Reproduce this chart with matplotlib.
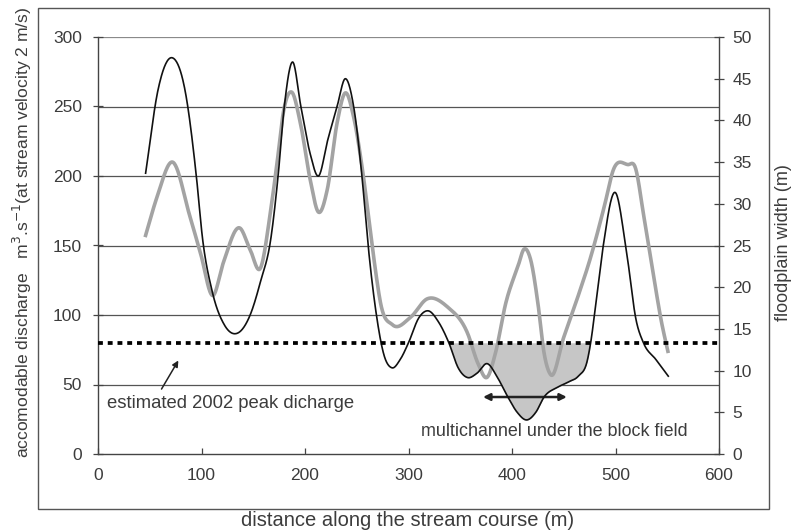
import numpy as np
import matplotlib
matplotlib.use("Agg")
import matplotlib.pyplot as plt
from matplotlib.patches import Rectangle

plt.rcParams['font.family'] = ['Liberation Sans', 'DejaVu Sans']

# ---- data ----
dist_q = [46, 58, 72, 84, 95, 101, 110, 122, 135, 147, 157, 167, 174, 180, 188, 196, 205,
          213, 222, 231, 239, 247, 255, 261, 269, 276, 284, 292, 300, 310, 319, 329, 339,
          348, 357, 366, 376, 386, 396, 405, 414, 423, 431, 444, 455, 464, 473, 476, 481,
          488, 500, 510, 520, 527, 539, 551]
discharge = [202, 262, 285, 262, 200, 155, 118, 93, 87, 100, 124, 155, 200, 250, 282, 250, 216,
             200, 226, 250, 270, 250, 200, 150, 100, 72, 62, 68, 80, 98, 103, 95, 80,
             62, 55, 58, 65, 55, 41, 30, 24.5, 30, 41, 48, 52, 56, 68, 80, 108,
             149, 188, 149, 96, 80, 68, 56]

dist_w = [45.5, 57, 72, 89, 99, 111, 121, 137, 147, 157, 166.5, 173, 179, 187, 195.5,
          205, 213, 221.5, 231, 239, 247, 255.5, 263, 268, 273, 284.5, 302, 318, 338, 357,
          367, 376, 384, 394, 405.5, 412, 418, 425, 431, 437.5, 450, 463.5, 476, 489, 498,
          512, 519, 527.5, 537, 544, 551]
width = [26.0, 30.8, 35.0, 28.4, 24.1, 19.0, 22.9, 27.1, 24.5, 22.3, 28.9, 34.9, 40.9, 43.4, 39.7,
         32.9, 29.0, 31.7, 39.7, 43.3, 40.4, 34.1, 26.9, 22.1, 18.1, 15.5, 16.4, 18.6, 17.6, 14.5,
         10.9, 9.2, 12.1, 18.1, 22.4, 24.6, 23.3, 18.1, 12.1, 9.5, 14.0, 18.8, 23.6, 29.6, 34.1,
         34.7, 34.4, 28.4, 21.2, 16.1, 12.1]

peak_2002 = 80
fill_range = [330, 485]
arrow_span = [372, 453]
arrow_level = 41

x_ticks = [0, 100, 200, 300, 400, 500, 600]
left_ticks = [0, 50, 100, 150, 200, 250, 300]
right_ticks = [0, 5, 10, 15, 20, 25, 30, 35, 40, 45, 50]


def smooth(xs, ys, n=30):
    """Cubic Hermite curve through the points (like a smoothed line)."""
    x = np.asarray(xs, float)
    y = np.asarray(ys, float)
    h = np.diff(x)
    d = np.diff(y) / h
    m = np.empty_like(y)
    m[0], m[-1] = d[0], d[-1]
    m[1:-1] = (d[1:] * h[:-1] + d[:-1] * h[1:]) / (h[:-1] + h[1:])
    X, Y = [], []
    t = np.linspace(0, 1, n, endpoint=False)
    for i in range(len(x) - 1):
        h00 = 2 * t**3 - 3 * t**2 + 1
        h10 = t**3 - 2 * t**2 + t
        h01 = -2 * t**3 + 3 * t**2
        h11 = t**3 - t**2
        X.append(x[i] + t * h[i])
        Y.append(h00 * y[i] + h10 * h[i] * m[i] + h01 * y[i + 1] + h11 * h[i] * m[i + 1])
    X.append([x[-1]])
    Y.append([y[-1]])
    return np.concatenate(X), np.concatenate(Y)


TXT = '#3c3c3c'
GRID = '#555555'
FS = 12.5

fig = plt.figure(figsize=(7.96, 5.31), dpi=100)
ax = fig.add_axes([98 / 796, 1 - 454 / 531, (719 - 98) / 796, (454 - 37) / 531])
ax2 = ax.twinx()

# outer frame
fig.patches.append(Rectangle((38 / 796, 1 - 509 / 531), (769 - 38) / 796, (509 - 8) / 531,
                             transform=fig.transFigure, fill=False, edgecolor='#555555',
                             linewidth=1.0, zorder=0))

ax.set_xlim(0, 600)
ax.set_ylim(0, 300)
ax2.set_ylim(0, 50)

for v in left_ticks[1:]:
    ax2.axhline(v * 50 / 300, color=GRID if v < 300 else '#8a8a8a', linewidth=0.9, zorder=1)

qx, qy = smooth(dist_q, discharge)
wx, wy = smooth(dist_w, width)

mask = (qx >= fill_range[0]) & (qx <= fill_range[1])
ax2.fill_between(qx[mask], qy[mask], peak_2002, where=qy[mask] < peak_2002, interpolate=True,
                 color='#c6c6c6', linewidth=0, zorder=2, transform=ax.transData)

ax2.plot(wx, wy, color='#a3a3a3', linewidth=2.6, zorder=3, solid_capstyle='butt')

ax.plot([0, 600], [peak_2002, peak_2002], color='black', linewidth=2.7,
        linestyle=(0, (1.3, 1.3)), dash_capstyle='butt', zorder=5)
ax.plot(qx, qy, color='#111111', linewidth=1.2, zorder=4)
ax.set_zorder(ax2.get_zorder() + 1)
ax.patch.set_visible(False)

# annotations
ax.annotate('', xy=(79, 69), xytext=(60, 45),
            arrowprops=dict(arrowstyle='-|>', color='#222222', lw=1.1, mutation_scale=9))
ax.text(9, 36.5, 'estimated 2002 peak dicharge', fontsize=13.3, color=TXT,
        ha='left', va='center')
ax.annotate('', xy=(arrow_span[1], arrow_level), xytext=(arrow_span[0], arrow_level),
            arrowprops=dict(arrowstyle='<|-|>', color='#222222', lw=1.8, mutation_scale=10,
                            shrinkA=0, shrinkB=0))
ax.text(441, 16.5, 'multichannel under the block field', fontsize=12.9, color=TXT,
        ha='center', va='center')

# axes styling
for a in (ax, ax2):
    a.spines['top'].set_visible(False)
    for s in ('left', 'right', 'bottom'):
        a.spines[s].set_color('#444444')
        a.spines[s].set_linewidth(1.0)
ax.spines['right'].set_visible(False)
ax2.spines['left'].set_visible(False)
ax2.spines['bottom'].set_visible(False)

ax.set_xticks(x_ticks)
ax.set_yticks(left_ticks)
ax2.set_yticks(right_ticks)
ax.tick_params(axis='x', direction='in', length=4, width=0.9, color='#444444',
               labelsize=FS, labelcolor=TXT, pad=10)
ax.tick_params(axis='y', direction='inout', length=7, width=0.9, color='#444444',
               labelsize=FS, labelcolor=TXT, pad=8)
ax2.tick_params(axis='y', direction='inout', length=7, width=0.9, color='#444444',
                labelsize=FS, labelcolor=TXT, pad=6)

fig.text(22 / 796, 1 - 232 / 531,
         r'accomodable discharge   m$^{3}$.s$^{-1}$(at stream velocity 2 m/s)',
         rotation=90, ha='center', va='center', fontsize=12.6, color=TXT)
fig.text(783 / 796, 1 - 243 / 531, 'floodplain width (m)', rotation=90,
         ha='center', va='center', fontsize=13, color=TXT)
fig.text(408 / 796, 1 - 521 / 531, 'distance along the stream course (m)',
         ha='center', va='center', fontsize=14.5, color=TXT)

fig.savefig('out.png', dpi=100, facecolor='white')
